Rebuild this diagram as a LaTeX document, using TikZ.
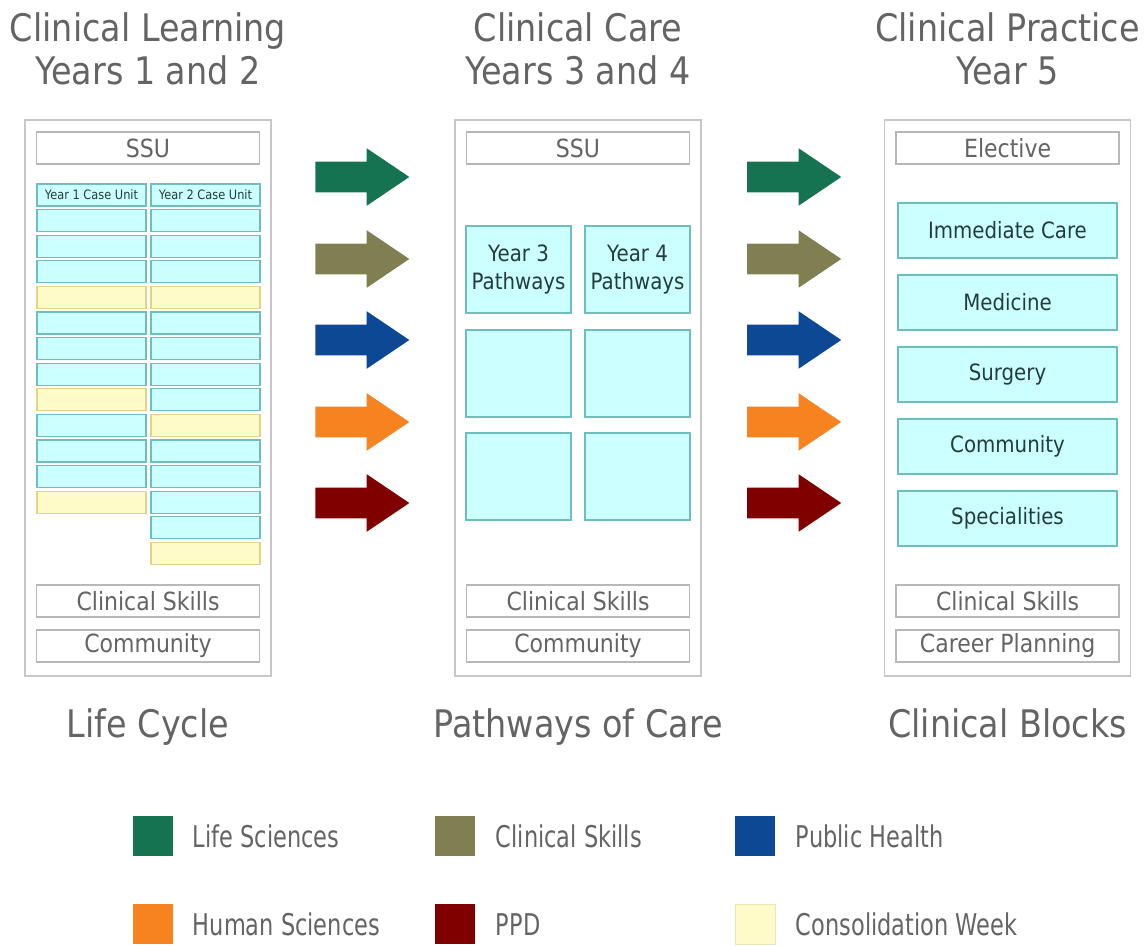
\documentclass[tikz,border=0pt]{standalone}
\usepackage{fontspec}
\setmainfont{DejaVu Sans}[FakeStretch=0.88]
\newfontfamily\legendfont{DejaVu Sans}[FakeStretch=0.75]
\definecolor{lifegreen}{RGB}{22, 115, 82}
\definecolor{skillolive}{RGB}{127, 127, 82}
\definecolor{healthblue}{RGB}{12, 72, 148}
\definecolor{humanorange}{RGB}{246, 130, 32}
\definecolor{ppdred}{RGB}{128, 0, 0}
\definecolor{weekyellow}{RGB}{255, 251, 200}
\definecolor{weekborder}{RGB}{222, 212, 140}
\definecolor{unitcyan}{RGB}{204, 255, 255}
\definecolor{unitborder}{RGB}{110, 190, 190}
\definecolor{textgrey}{RGB}{100, 100, 100}
\definecolor{darkteal}{RGB}{35, 60, 60}
\usepackage{tikz}
\usetikzlibrary{shapes, arrows.meta, positioning, calc}

\begin{document}
\begin{tikzpicture}[
  panel/.style={draw=black!22, line width=1pt, fill=white, minimum width=6.15cm, minimum height=13.9cm, inner sep=0pt},
  greybox/.style={draw=black!28, line width=1.2pt, fill=white, minimum width=5.575cm, minimum height=0.8cm, inner sep=0pt, text=textgrey, font=\fontsize{17.8}{20}\selectfont},
  unit/.style={draw=unitborder, fill=unitcyan, line width=0.9pt, minimum width=2.725cm, minimum height=0.55cm, inner sep=0pt, text=darkteal, font=\fontsize{9.2}{10}\selectfont},
  week/.style={unit, draw=weekborder, fill=weekyellow},
  pathbox/.style={draw=unitborder, fill=unitcyan, line width=0.9pt, minimum width=2.625cm, minimum height=2.175cm, inner sep=0pt, align=center, text=darkteal, font=\fontsize{16}{19.5}\selectfont},
  blockbox/.style={draw=unitborder, fill=unitcyan, line width=0.9pt, minimum width=5.475cm, minimum height=1.375cm, inner sep=0pt, text=darkteal, font=\fontsize{16}{19}\selectfont},
  bigarrow/.style={single arrow, fill=#1, draw=none, minimum height=2.35cm, inner xsep=0pt, inner ysep=0.375cm, single arrow head extend=0.3375cm, single arrow tip angle=68},
  heading/.style={text=textgrey, font=\fontsize{27}{32}\selectfont, anchor=base},
  swatch/.style={fill=#1, draw=none, minimum width=1cm, minimum height=1cm, inner sep=0pt},
  legendtext/.style={text=textgrey, font=\legendfont\fontsize{21.3}{24}\selectfont, anchor=base west}
]
  \useasboundingbox (0, 0) rectangle (28.65, -23.65);

  % Headings
  \node[heading] (ltitle) at (3.7, -1.05) {Clinical Learning};
  \node[heading] (lyears) at (3.7, -2.125) {Years 1 and 2};
  \node[heading] (ctitle) at (14.45, -1.05) {Clinical Care};
  \node[heading] (cyears) at (14.45, -2.125) {Years 3 and 4};
  \node[heading] (rtitle) at (25.19, -1.05) {Clinical Practice};
  \node[heading] (ryears) at (25.19, -2.125) {Year 5};

  % Life cycle panel
  \node[panel] (lpanel) at (3.7, -9.95) {};
  \node[greybox] (lssu) at (3.7, -3.7) {SSU};
  \node[unit] (a0) at (2.2875, -4.875) {Year 1 Case Unit};
  \node[unit] (a1) at (2.2875, -5.515) {};
  \node[unit] (a2) at (2.2875, -6.155) {};
  \node[unit] (a3) at (2.2875, -6.795) {};
  \node[week] (a4) at (2.2875, -7.435) {};
  \node[unit] (a5) at (2.2875, -8.075) {};
  \node[unit] (a6) at (2.2875, -8.715) {};
  \node[unit] (a7) at (2.2875, -9.355) {};
  \node[week] (a8) at (2.2875, -9.995) {};
  \node[unit] (a9) at (2.2875, -10.635) {};
  \node[unit] (a10) at (2.2875, -11.275) {};
  \node[unit] (a11) at (2.2875, -11.915) {};
  \node[week] (a12) at (2.2875, -12.555) {};
  \node[unit] (b0) at (5.1375, -4.875) {Year 2 Case Unit};
  \node[unit] (b1) at (5.1375, -5.515) {};
  \node[unit] (b2) at (5.1375, -6.155) {};
  \node[unit] (b3) at (5.1375, -6.795) {};
  \node[week] (b4) at (5.1375, -7.435) {};
  \node[unit] (b5) at (5.1375, -8.075) {};
  \node[unit] (b6) at (5.1375, -8.715) {};
  \node[unit] (b7) at (5.1375, -9.355) {};
  \node[unit] (b8) at (5.1375, -9.995) {};
  \node[week] (b9) at (5.1375, -10.635) {};
  \node[unit] (b10) at (5.1375, -11.275) {};
  \node[unit] (b11) at (5.1375, -11.915) {};
  \node[unit] (b12) at (5.1375, -12.555) {};
  \node[unit] (b13) at (5.1375, -13.195) {};
  \node[week] (b14) at (5.1375, -13.835) {};
  \node[greybox] (lskills) at (3.7, -15.025) {Clinical Skills};
  \node[greybox] (lcomm) at (3.7, -16.15) {Community};
  \node[heading] (lcycle) at (3.7, -18.425) {Life Cycle};

  % Pathways panel
  \node[panel] (cpanel) at (14.45, -9.95) {};
  \node[greybox] (cssu) at (14.45, -3.7) {SSU};
  \node[pathbox] (p3) at (12.9625, -6.7375) {Year 3\\Pathways};
  \node[pathbox] (p4) at (15.9375, -6.7375) {Year 4\\Pathways};
  \node[pathbox] (p3b) at (12.9625, -9.3375) {};
  \node[pathbox] (p4b) at (15.9375, -9.3375) {};
  \node[pathbox] (p3c) at (12.9625, -11.9125) {};
  \node[pathbox] (p4c) at (15.9375, -11.9125) {};
  \node[greybox] (cskills) at (14.45, -15.025) {Clinical Skills};
  \node[greybox] (ccomm) at (14.45, -16.15) {Community};
  \node[heading] (cpath) at (14.45, -18.425) {Pathways of Care};

  % Clinical blocks panel
  \node[panel] (rpanel) at (25.19, -9.95) {};
  \node[greybox] (relective) at (25.19, -3.7) {Elective};
  \node[blockbox] (immediate) at (25.1875, -5.7625) {Immediate Care};
  \node[blockbox] (medicine) at (25.1875, -7.5625) {Medicine};
  \node[blockbox] (surgery) at (25.1875, -9.3625) {Surgery};
  \node[blockbox] (rcomm) at (25.1875, -11.1625) {Community};
  \node[blockbox] (special) at (25.1875, -12.9625) {Specialities};
  \node[greybox] (rskills) at (25.19, -15.025) {Clinical Skills};
  \node[greybox] (career) at (25.19, -16.15) {Career Planning};
  \node[heading] (rblocks) at (25.19, -18.425) {Clinical Blocks};

  % Arrows
  \node[bigarrow=lifegreen] (la1) at (8.775, -4.425) {};
  \node[bigarrow=skillolive] (la2) at (8.775, -6.475) {};
  \node[bigarrow=healthblue] (la3) at (8.775, -8.5) {};
  \node[bigarrow=humanorange] (la4) at (8.775, -10.55) {};
  \node[bigarrow=ppdred] (la5) at (8.775, -12.575) {};
  \node[bigarrow=lifegreen] (ra1) at (19.5725, -4.425) {};
  \node[bigarrow=skillolive] (ra2) at (19.5725, -6.475) {};
  \node[bigarrow=healthblue] (ra3) at (19.5725, -8.5) {};
  \node[bigarrow=humanorange] (ra4) at (19.5725, -10.55) {};
  \node[bigarrow=ppdred] (ra5) at (19.5725, -12.575) {};

  % Legend
  \node[swatch=lifegreen] (klife) at (3.825, -20.9) {};
  \node[legendtext] (tlife) at (4.7, -21.175) {Life Sciences};
  \node[swatch=skillolive] (kskills) at (11.375, -20.9) {};
  \node[legendtext] (tskills) at (12.275, -21.175) {Clinical Skills};
  \node[swatch=healthblue] (khealth) at (18.875, -20.9) {};
  \node[legendtext] (thealth) at (19.775, -21.175) {Public Health};
  \node[swatch=humanorange] (khuman) at (3.825, -23.1) {};
  \node[legendtext] (thuman) at (4.7, -23.375) {Human Sciences};
  \node[swatch=ppdred] (kppd) at (11.375, -23.1) {};
  \node[legendtext] (tppd) at (12.275, -23.375) {PPD};
  \node[swatch=weekyellow, draw=weekborder!60, line width=0.6pt] (kweek) at (18.875, -23.1) {};
  \node[legendtext] (tweek) at (19.775, -23.375) {Consolidation Week};
\end{tikzpicture}
\end{document}
